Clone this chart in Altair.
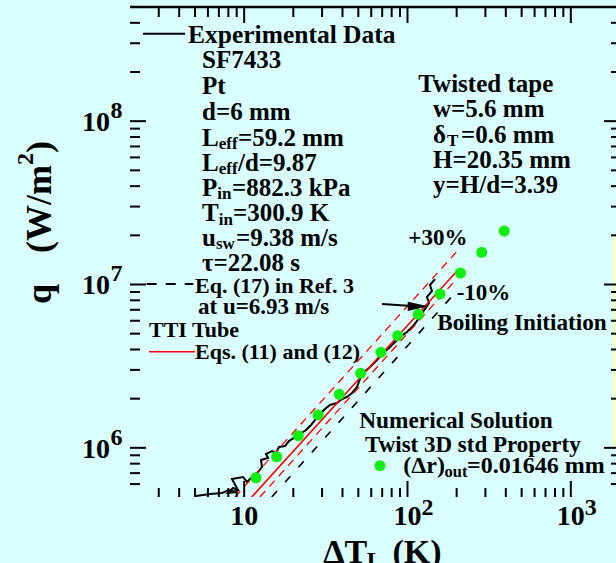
import altair as alt
import pandas as pd

FONT = "Liberation Serif"
BG = "#d9ffff"

# ---- data (ΔT_L in K, q in W/m^2) ----
exp_dT = [5.07, 6.18, 7.32, 8.07, 9.04, 7.96, 8.55, 9.17, 8.42, 9.84, 10.41, 11.17,
          12.15, 12.86, 12.68, 14.00, 13.61, 14.81, 15.66, 16.35, 17.78, 18.81, 20.19,
          21.97, 23.91, 25.66, 27.54, 29.13, 31.25, 33.54, 37.02, 39.72, 42.62, 45.74,
          49.08, 51.2, 54.2, 58.96, 65.07, 70.8, 78.15, 83.85, 89.97, 99.3, 108.1,
          114.4, 119.3, 128.0, 135.4, 131.7, 141.3, 137.3, 147.4]
exp_q = [5.07e5, 5.21e5, 5.29e5, 5.52e5, 5.36e5, 5.29e5, 5.68e5, 5.52e5, 6.45e5, 6.63e5,
         6.18e5, 6.63e5, 7.11e5, 7.63e5, 8.42e5, 8.67e5, 9.17e5, 9.56e5, 9.30e5, 1.012e6,
         1.026e6, 1.101e6, 1.149e6, 1.215e6, 1.286e6, 1.380e6, 1.502e6, 1.611e6, 1.729e6,
         1.829e6, 1.881e6, 1.991e6, 2.048e6, 2.166e6, 2.358e6, 2.639e6, 2.913e6, 3.124e6,
         3.450e6, 3.807e6, 4.144e6, 4.446e6, 4.771e6, 5.12e6, 5.57e6, 5.98e6, 6.42e6,
         7.08e6, 7.70e6, 8.39e6, 9.13e6, 9.93e6, 1.080e7]

eq11_dT = [11.12, 201.0]
eq11_q = [5.0e5, 1.21e7]
p30_dT = [8.79, 200.1]
p30_q = [5.0e5, 1.588e7]
m10_dT = [12.50, 201.0]
m10_q = [5.0e5, 1.088e7]
eq17_dT = [14.75, 195.4]
eq17_q = [5.0e5, 8.87e6]

num_dT = [11.81, 15.82, 21.45, 28.32, 38.24, 51.7, 68.8, 87.1, 116.5, 158.1, 211.1, 284.7, 391.4]
num_q = [6.56e5, 8.82e5, 1.187e6, 1.589e6, 2.127e6, 2.860e6, 3.845e6, 4.859e6, 6.57e6,
         8.75e6, 1.176e7, 1.574e7, 2.126e7]

x_major = [10, 100, 1000]
x_minor = [3, 4, 5, 6, 7, 8, 9, 20, 30, 40, 50, 60, 70, 80, 90,
           200, 300, 400, 500, 600, 700, 800, 900]
y_major = [1e6, 1e7, 1e8]
y_minor = [6e5, 7e5, 8e5, 9e5, 2e6, 3e6, 4e6, 5e6, 6e6, 7e6, 8e6, 9e6,
           2e7, 3e7, 4e7, 5e7, 6e7, 7e7, 8e7, 9e7, 2e8, 3e8, 4e8]
x_label_text = ["10", "10", "10"]
x_exp_vals = [100, 1000]
x_exp_text = ["2", "3"]
y_label_text = ["10", "10", "10"]
y_exp_vals = [1e6, 1e7, 1e8]
y_exp_text = ["6", "7", "8"]

W, H = 486, 490
xscale = alt.Scale(type="log", domain=[2, 1891], nice=False)
yscale = alt.Scale(type="log", domain=[5e5, 5e8], nice=False)

layers = []

# yellow strip at the right edge
layers.append(alt.Chart().mark_rect(color="#ffffb8").encode(
    x=alt.value(483.5), x2=alt.value(W), y=alt.value(228), y2=alt.value(440)))

# experimental curve with axes (domain lines only)
exp_df = pd.DataFrame({"dT": exp_dT, "q": exp_q, "i": range(len(exp_dT))})
layers.append(alt.Chart(exp_df).mark_line(color="black", strokeWidth=2, clip=True).encode(
    x=alt.X("dT:Q", scale=xscale, axis=alt.Axis(
        values=x_major, title=None, grid=False, ticks=False, labels=False,
        domain=True, domainColor="black", domainWidth=2.5)),
    y=alt.Y("q:Q", scale=yscale, axis=alt.Axis(
        values=y_major, title=None, grid=False, ticks=False, labels=False,
        domain=True, domainColor="black", domainWidth=2.5)),
    order="i:Q"))

def line_layer(xs, ys, color, dash=None, width=1.6):
    df = pd.DataFrame({"dT": xs, "q": ys})
    kw = dict(color=color, strokeWidth=width, clip=True)
    if dash:
        kw["strokeDash"] = dash
    return alt.Chart(df).mark_line(**kw).encode(
        x=alt.X("dT:Q", scale=xscale, axis=None),
        y=alt.Y("q:Q", scale=yscale, axis=None))

layers.append(line_layer(eq17_dT, eq17_q, "black", [8, 12], 1.6))
layers.append(line_layer(p30_dT, p30_q, "red", [8, 6], 1.3))
layers.append(line_layer(m10_dT, m10_q, "red", [8, 6], 1.3))
layers.append(line_layer(eq11_dT, eq11_q, "red", None, 1.6))

num_df = pd.DataFrame({"dT": num_dT, "q": num_q})
layers.append(alt.Chart(num_df).mark_point(filled=True, color="#11ee11", opacity=1,
                                           size=121, shape="circle", clip=True).encode(
    x=alt.X("dT:Q", scale=xscale, axis=None),
    y=alt.Y("q:Q", scale=yscale, axis=None)))

# ticks (inward)
def xticks(vals, y0, y1):
    return alt.Chart(pd.DataFrame({"v": vals})).mark_rule(color="black", strokeWidth=2).encode(
        x=alt.X("v:Q", scale=xscale, axis=None), y=alt.value(y0), y2=alt.value(y1))

def yticks(vals, x0, x1):
    return alt.Chart(pd.DataFrame({"v": vals})).mark_rule(color="black", strokeWidth=2).encode(
        y=alt.Y("v:Q", scale=yscale, axis=None), x=alt.value(x0), x2=alt.value(x1))

layers += [xticks(x_major, H, H - 16), xticks(x_minor, H, H - 9),
           xticks(x_major, 0, 16), xticks(x_minor, 0, 10),
           yticks(y_major, 0, 16), yticks(y_minor, 0, 10),
           yticks(y_major, W - 12, W), yticks(y_minor, W - 5, W)]

# top frame
layers.append(alt.Chart().mark_rule(color="black", strokeWidth=2.5).encode(
    x=alt.value(0), x2=alt.value(W), y=alt.value(0)))

# tick labels "10" and their exponents
layers.append(alt.Chart(pd.DataFrame({"v": x_major, "t": x_label_text})).mark_text(
    align="center", baseline="alphabetic", font=FONT, fontWeight="bold", fontSize=28,
    color="black").encode(
    x=alt.X("v:Q", scale=xscale, axis=None), y=alt.value(518), text="t:N"))
layers.append(alt.Chart(pd.DataFrame({"v": x_exp_vals, "t": x_exp_text})).mark_text(
    align="left", baseline="alphabetic", font=FONT, fontWeight="bold", fontSize=24,
    dx=14, color="black").encode(
    x=alt.X("v:Q", scale=xscale, axis=None), y=alt.value(508), text="t:N"))
layers.append(alt.Chart(pd.DataFrame({"v": y_major, "t": y_label_text})).mark_text(
    align="right", baseline="alphabetic", font=FONT, fontWeight="bold", fontSize=28,
    dy=10, color="black").encode(
    y=alt.Y("v:Q", scale=yscale, axis=None), x=alt.value(-20), text="t:N"))
layers.append(alt.Chart(pd.DataFrame({"v": y_exp_vals, "t": y_exp_text})).mark_text(
    align="left", baseline="alphabetic", font=FONT, fontWeight="bold", fontSize=24,
    dy=-3, color="black").encode(
    y=alt.Y("v:Q", scale=yscale, axis=None), x=alt.value(-19.5), text="t:N"))

# legend samples and arrow
layers.append(alt.Chart().mark_rule(color="black", strokeWidth=2).encode(
    x=alt.value(13), x2=alt.value(55), y=alt.value(26.7)))
layers.append(alt.Chart().mark_rule(color="black", strokeWidth=2, strokeDash=[10, 9]).encode(
    x=alt.value(16.7), x2=alt.value(63.3), y=alt.value(277)))
layers.append(alt.Chart().mark_rule(color="red", strokeWidth=1.6).encode(
    x=alt.value(19), x2=alt.value(65), y=alt.value(344.7)))
layers.append(alt.Chart().mark_point(filled=True, color="#11ee11", opacity=1, size=121,
                                     shape="circle").encode(
    x=alt.value(250), y=alt.value(458.7)))
layers.append(alt.Chart().mark_rule(color="black", strokeWidth=2).encode(
    x=alt.value(252), x2=alt.value(282), y=alt.value(297), y2=alt.value(299)))
layers.append(alt.Chart().mark_point(filled=True, color="black", opacity=1, size=420,
                                     strokeWidth=0,
                                     shape="M-1,-0.45L1,0L-1,0.45Z").encode(
    x=alt.value(288), y=alt.value(299.3)))

# text annotations: (text, x, y, size, angle)
S, SS, SL = 25, 17, 22
rows = [
    ("Experimental Data", 58, 36.3, 25.5, 0),
    ("SF7433", 72, 61.3, S, 0),
    ("Pt", 72, 87, S, 0),
    ("d=6 mm", 72, 113.3, S, 0),
    ("L", 72, 138.7, S, 0), ("eff", 88.7, 142.2, SS, 0), ("=59.2 mm", 108, 138.7, S, 0),
    ("L", 72, 163.5, S, 0), ("eff", 88.7, 167.0, SS, 0), ("/d=9.87", 108, 163.5, S, 0),
    ("P", 72, 188.5, S, 0), ("in", 87.3, 192.0, SS, 0), ("=882.3 kPa", 102, 188.5, S, 0),
    ("T", 72, 214, S, 0), ("in", 88.7, 217.5, SS, 0), ("=300.9 K", 103, 214, S, 0),
    ("u", 72, 238.5, S, 0), ("sw", 86, 242.0, SS, 0), ("=9.38 m/s", 106, 238.5, S, 0),
    ("τ=22.08 s", 72, 264, S, 0),
    ("Eq. (17) in Ref. 3", 65, 286.3, SL, 0),
    ("at u=6.93 m/s", 68, 307.3, 23, 0),
    ("TTI Tube", 19, 329.7, SL, 0),
    ("Eqs. (11) and (12)", 65, 352.3, SL, 0),
    ("Twisted tape", 288.3, 84.7, S, 0),
    ("w=5.6 mm", 303, 110.3, S, 0),
    ("δ", 303, 135.7, S, 0), ("T", 317, 139.2, SS, 0), ("=0.6 mm", 331, 135.7, S, 0),
    ("H=20.35 mm", 303, 161.3, S, 0),
    ("y=H/d=3.39", 303, 185.7, S, 0),
    ("+30%", 278.3, 238, 23, 0),
    ("-10%", 326.7, 293, 23, 0),
    ("Boiling Initiation", 307.3, 323, 23.2, 0),
    ("Numerical Solution", 229.3, 421.3, 23.3, 0),
    ("Twist 3D std Property", 235, 444.7, 23, 0),
    ("(Δr)", 273.3, 466.3, 24, 0), ("out", 314.5, 469.8, 16.5, 0),
    ("=0.01646 mm", 337, 466.3, 24, 0),
    ("ΔT", 193.3, 555.5, 34, 0), ("L", 236.7, 561, 24, 0), ("(K)", 262.5, 555.5, 34, 0),
    ("q", -79, 297, 36, 270), ("(W/m", -79, 246, 36, 270), ("2", -97, 158, 24, 270),
    (")", -79, 146, 36, 270),
]
ann = pd.DataFrame(rows, columns=["t", "x", "y", "s", "a"])
layers.append(alt.Chart(ann).mark_text(align="left", baseline="alphabetic", font=FONT,
                                       fontWeight="bold", color="black").encode(
    x=alt.X("x:Q", scale=None), y=alt.Y("y:Q", scale=None), text="t:N",
    size=alt.Size("s:Q", scale=None, legend=None),
    angle=alt.Angle("a:Q", scale=None, legend=None)))

chart = alt.layer(*layers).properties(
    width=W, height=H,
    padding={"left": 130, "top": 7, "right": 0, "bottom": 66},
    autosize=alt.AutoSizeParams(type="none"),
    background=BG,
).configure_view(stroke=None)

chart.save("out.html", embed_options={"renderer": "svg", "actions": False})
